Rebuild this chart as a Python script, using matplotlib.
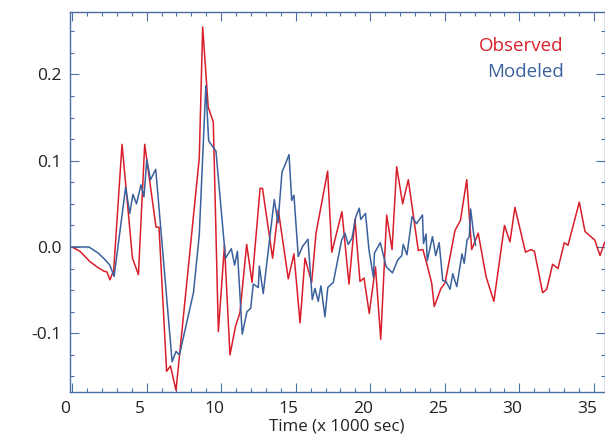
import numpy as np
import matplotlib
matplotlib.use('Agg')
import matplotlib.pyplot as plt
from matplotlib.ticker import MultipleLocator
import matplotlib.transforms as mtransforms

# Observed signal (time in 1000 s)
obs_t = [0.00, 0.53, 1.20, 1.67, 2.14, 2.34, 2.54, 2.79, 3.35, 4.05, 4.45, 4.87,
         5.63, 5.83, 6.34, 6.60, 6.97, 8.53, 8.76, 9.13, 9.47, 9.81, 10.22, 10.59,
         10.96, 11.26, 11.71, 12.07, 12.61, 12.77, 13.45, 13.83, 14.50, 14.88,
         15.29, 15.62, 16.07, 16.36, 17.14, 17.42, 18.10, 18.57, 18.97, 19.31,
         19.58, 19.93, 20.35, 20.70, 21.10, 21.46, 21.77, 22.17, 22.55, 23.22,
         23.53, 23.80, 24.12, 24.29, 24.74, 25.01, 25.68, 26.05, 26.47, 26.80,
         27.24, 27.76, 28.29, 29.00, 29.37, 29.70, 30.41, 30.78, 31.01, 31.56,
         31.83, 32.23, 32.59, 33.01, 33.26, 34.02, 34.40, 35.06, 35.41, 35.71, 36.00]
obs_v = [0.000, -0.005, -0.017, -0.023, -0.028, -0.029, -0.038, -0.027, 0.119,
         -0.013, -0.032, 0.119, 0.023, 0.023, -0.144, -0.138, -0.166, 0.103, 0.255,
         0.162, 0.145, -0.098, 0.002, -0.125, -0.092, -0.076, 0.003, -0.041, 0.068,
         0.068, -0.013, 0.043, -0.037, -0.008, -0.088, -0.013, -0.041, 0.016, 0.088,
         -0.006, 0.041, -0.043, 0.032, -0.040, -0.036, -0.077, -0.023, -0.107, 0.037,
         -0.003, 0.093, 0.050, 0.078, -0.004, -0.003, -0.020, -0.042, -0.069, -0.048,
         -0.042, 0.019, 0.031, 0.078, -0.003, 0.016, -0.034, -0.063, 0.025, 0.006,
         0.046, -0.006, -0.003, -0.005, -0.053, -0.049, -0.020, -0.025, 0.005, 0.002,
         0.052, 0.018, 0.008, -0.010, 0.005, 0.012]

# Modeled signal
mod_t = [0.00, 1.13, 1.75, 2.17, 2.53, 2.82, 3.59, 3.87, 4.08, 4.32, 4.62, 4.82,
         5.01, 5.26, 5.61, 6.71, 6.97, 7.20, 8.14, 8.53, 8.97, 9.16, 9.65, 10.29,
         10.68, 10.90, 11.09, 11.41, 11.73, 11.98, 12.15, 12.49, 12.56, 12.82, 13.56,
         13.81, 14.08, 14.28, 14.55, 14.73, 14.88, 15.17, 15.47, 15.82, 16.11, 16.29,
         16.51, 16.69, 16.96, 17.15, 17.52, 18.08, 18.30, 18.52, 18.77, 19.03, 19.26,
         19.36, 19.68, 19.91, 20.21, 20.28, 20.67, 21.07, 21.49, 21.84, 22.11, 22.21,
         22.46, 22.80, 23.10, 23.50, 23.57, 23.74, 23.82, 24.17, 24.39, 24.62, 24.86,
         25.08, 25.35, 25.53, 25.80, 26.15, 26.30, 26.49, 26.64, 26.73, 26.91, 27.06]
mod_v = [0.000, 0.000, -0.007, -0.014, -0.021, -0.034, 0.069, 0.039, 0.061, 0.050,
         0.072, 0.058, 0.101, 0.078, 0.090, -0.133, -0.121, -0.125, -0.053, 0.014,
         0.187, 0.123, 0.111, -0.013, -0.002, -0.021, -0.005, -0.101, -0.075, -0.071,
         -0.043, -0.047, -0.022, -0.054, 0.055, 0.028, 0.087, 0.095, 0.107, 0.054,
         0.060, -0.011, 0.001, 0.009, -0.061, -0.048, -0.063, -0.045, -0.081, -0.047,
         -0.041, 0.008, 0.016, 0.003, 0.010, 0.035, 0.045, 0.032, 0.039, -0.003,
         -0.035, -0.007, 0.005, -0.023, -0.030, -0.015, -0.010, 0.003, -0.009, 0.035,
         0.027, 0.037, 0.004, 0.015, -0.016, 0.012, -0.010, 0.005, -0.039, -0.040,
         -0.049, -0.031, -0.046, -0.008, -0.019, 0.008, 0.012, 0.044, 0.018, 0.002]

red = '#d81e2a'
blue = '#3a619d'
axis_col = '#4a6fa5'

plt.rcParams['font.family'] = ['Open Sans', 'DejaVu Sans']

fig = plt.figure(figsize=(6.05, 4.36), dpi=100)
ax = fig.add_axes([0.1152, 0.1016, 0.9992 - 0.1152, 0.9718 - 0.1016])

ax.plot(obs_t, obs_v, color=red, lw=1.1)
ax.plot(mod_t, mod_v, color=blue, lw=1.1)

ax.set_xlim(-0.16, 35.71)
ax.set_ylim(-0.1677, 0.272)

ax.xaxis.set_major_locator(MultipleLocator(5))
ax.xaxis.set_minor_locator(MultipleLocator(1))
ax.yaxis.set_major_locator(MultipleLocator(0.1))
ax.yaxis.set_minor_locator(MultipleLocator(0.025))
ax.yaxis.set_major_formatter(plt.FuncFormatter(lambda v, p: f'{v:.1f}'))

for s in ax.spines.values():
    s.set_color(axis_col)
    s.set_linewidth(1.0)

ax.tick_params(which='both', direction='in', top=True, right=True,
               color=axis_col, width=0.8, labelcolor='#222222', labelsize=12.5)
ax.tick_params(which='major', length=6.5)
ax.tick_params(which='minor', length=3.2)
ax.tick_params(axis='y', pad=6)
ax.tick_params(axis='x', pad=7)

# shift x tick labels a little to the left, as in the reference
offset = mtransforms.ScaledTranslation(-7 / 100, 0, fig.dpi_scale_trans)
for lbl in ax.get_xticklabels():
    lbl.set_transform(lbl.get_transform() + offset)

ax.set_xlabel('Time (x 1000 sec)', fontsize=12.2, color='#222222', labelpad=0.5)

ax.text(0.924, 0.910, 'Observed', color=red, fontsize=13.5, ha='right', va='center',
        transform=ax.transAxes)
ax.text(0.924, 0.843, 'Modeled', color=blue, fontsize=13.5, ha='right', va='center',
        transform=ax.transAxes)

plt.savefig('out.png', dpi=100)
plt.close()
